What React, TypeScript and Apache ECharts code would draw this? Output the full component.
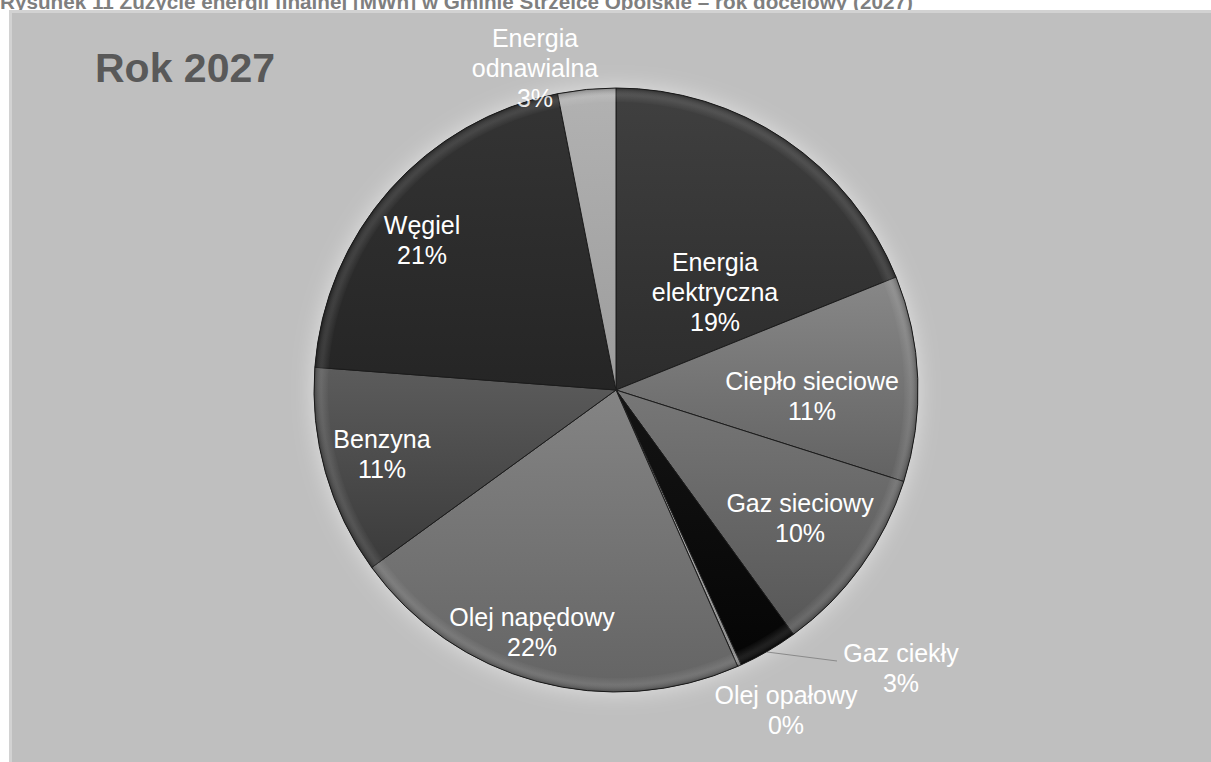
import React, { useEffect, useRef } from "react";
import * as echarts from "echarts";

const FIGURE_TITLE =
  "Rysunek 11 Zużycie energii finalnej [MWh] w Gminie Strzelce Opolskie – rok docelowy (2027)";
const CHART_TITLE = "Rok 2027";

const CATEGORIES = [
  "Energia elektryczna",
  "Ciepło sieciowe",
  "Gaz sieciowy",
  "Gaz ciekły",
  "Olej opałowy",
  "Olej napędowy",
  "Benzyna",
  "Węgiel",
  "Energia odnawialna",
];
const VALUES = [18.9, 11.0, 10.1, 3.2, 0.2, 21.6, 11.2, 20.7, 3.1];

// styling (not data)
const COLORS_TOP = ["#404040", "#888888", "#777777", "#141414", "#c0c0c0", "#848484", "#5c5c5c", "#343434", "#b2b2b2"];
const COLORS_BOTTOM = ["#2c2c2c", "#626262", "#575757", "#050505", "#8c8c8c", "#646464", "#3a3a3a", "#252525", "#9c9c9c"];
const OUTSIDE = [false, false, false, true, true, false, false, false, true];
const LABEL_POS: number[][] = [
  [715, 292],
  [812, 396],
  [800, 518],
  [901, 668],
  [786, 710],
  [532, 632],
  [382, 454],
  [422, 240],
  [535, 68],
];
const LEADER_INDEX = 3;
const LEADER_POINTS = [
  [767, 652],
  [837, 661],
  [837, 661],
];

const CENTER = [616, 390];
const RADIUS = 302;
const FONT = "Arial, 'Liberation Sans', sans-serif";

export default function App() {
  const ref = useRef<HTMLDivElement>(null);

  useEffect(() => {
    if (!ref.current) return;
    const chart = echarts.init(ref.current, undefined, { renderer: "svg" });

    const data = CATEGORIES.map((name, i) => ({
      name,
      value: VALUES[i],
      itemStyle: {
        color: {
          type: "linear",
          x: 0,
          y: 0,
          x2: 0,
          y2: 1,
          colorStops: [
            { offset: 0, color: COLORS_TOP[i] },
            { offset: 1, color: COLORS_BOTTOM[i] },
          ],
        },
      },
      label: { position: OUTSIDE[i] ? "outside" : "inside" },
      labelLine: { show: i === LEADER_INDEX },
    }));

    const rim = CATEGORIES.map((name, i) => ({ name, value: VALUES[i] }));

    chart.setOption({
      animation: false,
      backgroundColor: "#ffffff",
      graphic: [
        {
          type: "text",
          x: 0,
          y: 1,
          z: 0,
          style: {
            text: FIGURE_TITLE,
            font: `bold 20.7px ${FONT}`,
            fill: "#7f7f7f",
            verticalAlign: "middle",
            align: "left",
          },
        },
        {
          type: "rect",
          z: 1,
          shape: { x: 9, y: 10, width: 1202, height: 752 },
          style: { fill: "#d2d2d2" },
        },
        {
          type: "rect",
          z: 1,
          shape: { x: 12, y: 13, width: 1199, height: 749 },
          style: { fill: "#bfbfbf" },
        },
        {
          type: "text",
          x: 95,
          y: 68,
          z: 1,
          style: {
            text: CHART_TITLE,
            font: `bold 41px ${FONT}`,
            fill: "#595959",
            verticalAlign: "middle",
            align: "left",
          },
        },
      ],
      series: [
        {
          type: "pie",
          silent: true,
          z: 1,
          center: CENTER,
          radius: RADIUS,
          label: { show: false },
          labelLine: { show: false },
          data: [
            {
              value: 1,
              itemStyle: {
                color: "#3a3a3a",
                shadowBlur: 22,
                shadowColor: "rgba(255,255,255,0.55)",
              },
            },
          ],
        },
        {
          type: "pie",
          z: 2,
          center: CENTER,
          radius: RADIUS,
          startAngle: 90,
          clockwise: true,
          avoidLabelOverlap: false,
          percentPrecision: 0,
          itemStyle: { borderColor: "#1c1c1c", borderWidth: 1 },
          label: {
            show: true,
            color: "#ffffff",
            fontFamily: FONT,
            fontSize: 25,
            lineHeight: 30,
            align: "center",
            formatter: (p: any) => `${p.name.replace("Energia ", "Energia\n")}\n${p.percent}%`,
          },
          labelLine: {
            show: false,
            length: 10,
            length2: 10,
            lineStyle: { color: "#8a8a8a", width: 1 },
          },
          labelLayout: (p: any) => {
            const i = p.dataIndex;
            const res: any = {
              x: LABEL_POS[i][0],
              y: LABEL_POS[i][1],
              align: "center",
              verticalAlign: "middle",
            };
            if (i === LEADER_INDEX) res.labelLinePoints = LEADER_POINTS;
            return res;
          },
          data,
        },
        {
          // bevel rim overlay
          type: "pie",
          silent: true,
          z: 3,
          center: CENTER,
          radius: [RADIUS - 14, RADIUS],
          startAngle: 90,
          clockwise: true,
          label: { show: false },
          labelLine: { show: false },
          itemStyle: {
            borderWidth: 0,
            color: {
              type: "radial",
              x: CENTER[0],
              y: CENTER[1],
              r: RADIUS,
              global: true,
              colorStops: [
                { offset: 0.95, color: "rgba(255,255,255,0)" },
                { offset: 0.975, color: "rgba(255,255,255,0.10)" },
                { offset: 1, color: "rgba(0,0,0,0.25)" },
              ],
            },
          },
          data: rim,
        },
      ],
    });

    return () => chart.dispose();
  }, []);

  return (
    <div
      ref={ref}
      style={{ position: "fixed", left: 0, top: 0, width: 1211, height: 762 }}
    />
  );
}
